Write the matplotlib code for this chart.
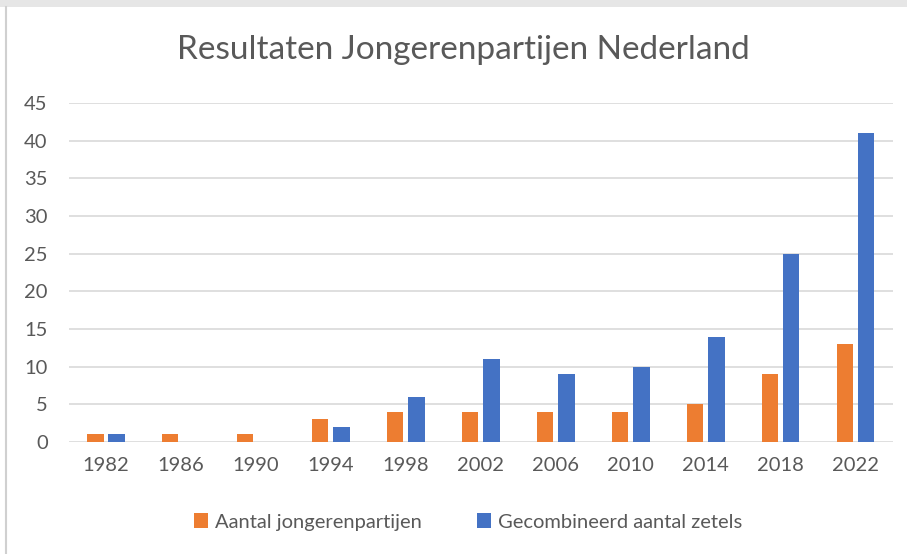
import matplotlib
matplotlib.use("Agg")
import matplotlib.pyplot as plt
import numpy as np
from matplotlib.patches import Rectangle
from matplotlib.lines import Line2D

years = ["1982", "1986", "1990", "1994", "1998", "2002", "2006", "2010", "2014", "2018", "2022"]
parties = [1, 1, 1, 3, 4, 4, 4, 4, 5, 9, 13]
seats = [1, 0, 0, 2, 6, 11, 9, 10, 14, 25, 41]
series_names = ["Aantal jongerenpartijen", "Gecombineerd aantal zetels"]
yticks = [0, 5, 10, 15, 20, 25, 30, 35, 40, 45]

orange = "#ED7D31"
blue = "#4472C4"
textc = "#595959"
font = "Lato"

W, H = 907, 554
fig = plt.figure(figsize=(W / 100, H / 100), dpi=100)
fig.patch.set_facecolor("white")

# screenshot border
fig.patches.append(Rectangle((0, 1 - 7 / H), 1, 7 / H, transform=fig.transFigure,
                             facecolor="#e6e6e6", edgecolor="none", zorder=0))
fig.lines.append(Line2D([6 / W, 6 / W], [0, 1 - 7 / H], transform=fig.transFigure,
                        color="#d0d0d0", lw=1.5))

left, right = 68.5 / W, 893 / W
bottom, top = 1 - 442 / H, 1 - 103 / H
ax = fig.add_axes([left, bottom, right - left, top - bottom])

x = np.arange(len(years))
bw = 0.22
gap = 0.065
ax.bar(x - (bw + gap) / 2, parties, width=bw, color=orange, label=series_names[0], zorder=3)
ax.bar(x + (bw + gap) / 2, seats, width=bw, color=blue, label=series_names[1], zorder=3)

ax.set_xlim(-0.5, len(years) - 0.5)
ax.set_ylim(0, 45)
ax.set_yticks(yticks)
ax.set_yticklabels([str(v) for v in yticks], fontsize=14.5, color=textc, family=font)
ax.set_xticks(x)
ax.set_xticklabels(years, fontsize=14.5, color=textc, family=font)
ax.tick_params(axis="both", length=0)
ax.tick_params(axis="y", pad=15)
ax.tick_params(axis="x", pad=11)
ax.grid(axis="y", color="#d9d9d9", lw=1.2, zorder=0)
for s in ax.spines.values():
    s.set_visible(False)

fig.text(463 / W, 1 - 50 / H, "Resultaten Jongerenpartijen Nederland", ha="center", va="center",
         fontsize=24, color=textc, family=font)

leg = fig.legend(loc="center", bbox_to_anchor=(468 / W, 1 - 522 / H), ncol=2, frameon=False,
                 prop={"family": font, "size": 14.5}, handlelength=0.7, handleheight=0.7,
                 handletextpad=0.35, columnspacing=2.7)
for t in leg.get_texts():
    t.set_color(textc)

fig.savefig("out.png", dpi=100, facecolor="white")
